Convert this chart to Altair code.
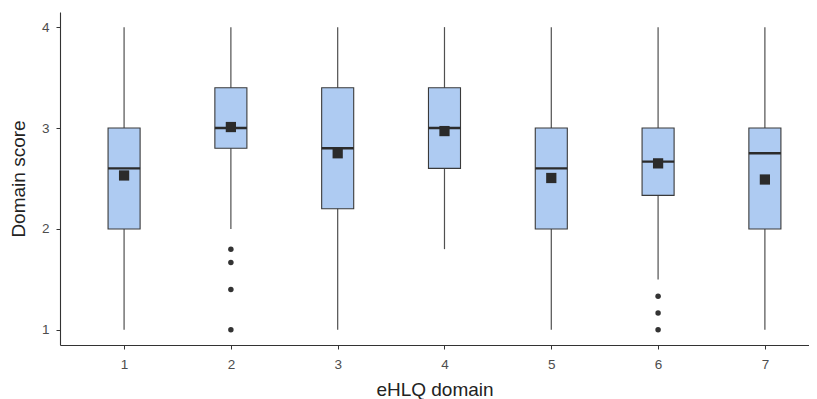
import altair as alt
import pandas as pd

domains = [1, 2, 3, 4, 5, 6, 7]
whisker_lo = [1.0, 2.0, 1.0, 1.8, 1.0, 1.5, 1.0]
q1 = [2.0, 2.8, 2.2, 2.6, 2.0, 2.333, 2.0]
median = [2.6, 3.0, 2.8, 3.0, 2.6, 2.667, 2.75]
q3 = [3.0, 3.4, 3.4, 3.4, 3.0, 3.0, 3.0]
whisker_hi = [4.0, 4.0, 4.0, 4.0, 4.0, 4.0, 4.0]
means = [2.53, 3.01, 2.75, 2.97, 2.505, 2.65, 2.49]

outlier_domain = [2, 2, 2, 2, 6, 6, 6]
outlier_value = [1.8, 1.667, 1.4, 1.0, 1.333, 1.167, 1.0]

box_df = pd.DataFrame({
    "d": domains, "lo": whisker_lo, "q1": q1, "med": median,
    "q3": q3, "hi": whisker_hi, "mean": means,
})
out_df = pd.DataFrame({"d": outlier_domain, "v": outlier_value})

xscale = alt.Scale(domain=[0.4, 7.413], nice=False, zero=False)
yscale = alt.Scale(domain=[0.85, 4.15], nice=False, zero=False)

xaxis = alt.Axis(title="eHLQ domain", values=domains, format="d", grid=False)
yaxis = alt.Axis(title="Domain score", values=[1, 2, 3, 4], format="d", grid=False)

base = alt.Chart(box_df).transform_calculate(
    xl="datum.d - 0.15", xr="datum.d + 0.15"
)

whisk = base.mark_rule(color="#505050", strokeWidth=1.2).encode(
    x=alt.X("d:Q", scale=xscale, axis=xaxis),
    y=alt.Y("lo:Q", scale=yscale, axis=yaxis),
    y2="hi:Q",
)

box = base.mark_rect(fill="#aecbf2", stroke="#3a3a3a", strokeWidth=1.1).encode(
    x=alt.X("xl:Q", scale=xscale),
    x2="xr:Q",
    y=alt.Y("q1:Q", scale=yscale),
    y2="q3:Q",
)

med = base.mark_rule(color="#2b2b2b", strokeWidth=2.4).encode(
    x=alt.X("xl:Q", scale=xscale),
    x2="xr:Q",
    y=alt.Y("med:Q", scale=yscale),
)

mean_pts = base.mark_point(shape="square", filled=True, size=105, color="#2b2b2b", opacity=1).encode(
    x=alt.X("d:Q", scale=xscale),
    y=alt.Y("mean:Q", scale=yscale),
)

outs = alt.Chart(out_df).mark_circle(size=30, color="#333333", opacity=1).encode(
    x=alt.X("d:Q", scale=xscale),
    y=alt.Y("v:Q", scale=yscale),
)

chart = alt.layer(whisk, box, med, mean_pts, outs).properties(
    width=749,
    height=333,
    autosize=alt.AutoSizeParams(type="none"),
    padding={"left": 52, "top": 4, "right": 0, "bottom": 54},
).configure_view(stroke=None).configure_axis(
    domainColor="#333333",
    domainWidth=1.1,
    tickColor="#333333",
    tickSize=4,
    labelColor="#4d4d4d",
    labelFont="Liberation Sans",
    labelFontSize=13.5,
    titleFont="Liberation Sans",
    titleFontSize=19,
    titleFontWeight="normal",
    titleColor="#222222",
).configure_axisY(
    labelPadding=7, titlePadding=13
).configure_axisX(
    labelPadding=8, titlePadding=10
)

chart.save("out.html", embed_options={"renderer": "svg", "actions": False})
